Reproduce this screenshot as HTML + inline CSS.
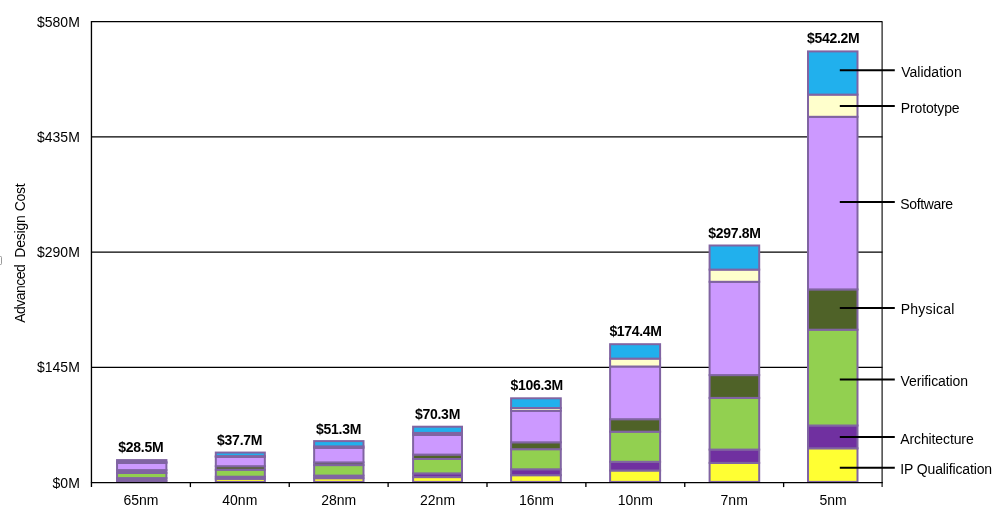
<!DOCTYPE html>
<html lang="en"><head><meta charset="utf-8"><title>Advanced Design Cost</title>
<style>html,body{margin:0;padding:0;background:#fff}body{width:996px;height:518px;overflow:hidden}svg{display:block}text{font-family:"Liberation Sans",Arial,Helvetica,sans-serif;fill:#000}</style>
</head><body>
<svg width="996" height="518" viewBox="0 0 996 518">
<rect width="996" height="518" fill="#fff"/>
<rect x="-2" y="256.5" width="3.5" height="8" fill="none" stroke="#9a9a9a" stroke-width="1" rx="0.8"/>
<g stroke="#000" stroke-width="1.1" fill="none">
<line x1="91.5" y1="136.90" x2="882.5" y2="136.90"/>
<line x1="91.5" y1="252.15" x2="882.5" y2="252.15"/>
<line x1="91.5" y1="367.40" x2="882.5" y2="367.40"/>
<line x1="91.5" y1="21.65" x2="882.5" y2="21.65"/>
<line x1="882.1" y1="21.65" x2="882.1" y2="486.90"/>
</g>
<g stroke="#8064A2" stroke-width="2" stroke-linejoin="miter">
<rect x="117.04" y="480.70" width="49.36" height="1.20" fill="#8064A2"/>
<rect x="117.04" y="478.10" width="49.36" height="2.60" fill="#8064A2"/>
<rect x="117.04" y="473.00" width="49.36" height="5.10" fill="#92D050"/>
<rect x="117.04" y="470.10" width="49.36" height="2.90" fill="#8064A2"/>
<rect x="117.04" y="463.00" width="49.36" height="7.10" fill="#CC99FF"/>
<rect x="117.04" y="461.90" width="49.36" height="1.10" fill="#8064A2"/>
<rect x="117.04" y="460.10" width="49.36" height="1.80" fill="#8064A2"/>
<rect x="215.80" y="478.80" width="49.05" height="3.10" fill="#FFFF33"/>
<rect x="215.80" y="476.70" width="49.05" height="2.10" fill="#8064A2"/>
<rect x="215.80" y="469.70" width="49.05" height="7.00" fill="#92D050"/>
<rect x="215.80" y="466.20" width="49.05" height="3.50" fill="#4F6228"/>
<rect x="215.80" y="456.97" width="49.05" height="9.23" fill="#CC99FF"/>
<rect x="215.80" y="456.10" width="49.05" height="0.87" fill="#8064A2"/>
<rect x="215.80" y="452.56" width="49.05" height="3.54" fill="#21B0ED"/>
<rect x="314.14" y="478.20" width="49.36" height="3.70" fill="#FFFF33"/>
<rect x="314.14" y="475.60" width="49.36" height="2.60" fill="#8064A2"/>
<rect x="314.14" y="465.10" width="49.36" height="10.50" fill="#92D050"/>
<rect x="314.14" y="462.40" width="49.36" height="2.70" fill="#4F6228"/>
<rect x="314.14" y="447.85" width="49.36" height="14.55" fill="#CC99FF"/>
<rect x="314.14" y="446.40" width="49.36" height="1.45" fill="#8064A2"/>
<rect x="314.14" y="441.10" width="49.36" height="5.30" fill="#21B0ED"/>
<rect x="413.10" y="477.10" width="48.9" height="4.80" fill="#FFFF33"/>
<rect x="413.10" y="473.40" width="48.9" height="3.70" fill="#7030A0"/>
<rect x="413.10" y="459.00" width="48.9" height="14.40" fill="#92D050"/>
<rect x="413.10" y="454.60" width="48.9" height="4.40" fill="#4F6228"/>
<rect x="413.10" y="434.95" width="48.9" height="19.65" fill="#CC99FF"/>
<rect x="413.10" y="432.90" width="48.9" height="2.05" fill="#8064A2"/>
<rect x="413.10" y="426.70" width="48.9" height="6.20" fill="#21B0ED"/>
<rect x="511.10" y="475.20" width="49.7" height="6.70" fill="#FFFF33"/>
<rect x="511.10" y="469.30" width="49.7" height="5.90" fill="#7030A0"/>
<rect x="511.10" y="449.20" width="49.7" height="20.10" fill="#92D050"/>
<rect x="511.10" y="442.30" width="49.7" height="6.90" fill="#4F6228"/>
<rect x="511.10" y="410.80" width="49.7" height="31.50" fill="#CC99FF"/>
<rect x="511.10" y="408.00" width="49.7" height="2.80" fill="#FFFFCC"/>
<rect x="511.10" y="398.30" width="49.7" height="9.70" fill="#21B0ED"/>
<rect x="610.10" y="470.50" width="50.0" height="11.40" fill="#FFFF33"/>
<rect x="610.10" y="461.80" width="50.0" height="8.70" fill="#7030A0"/>
<rect x="610.10" y="431.70" width="50.0" height="30.10" fill="#92D050"/>
<rect x="610.10" y="419.20" width="50.0" height="12.50" fill="#4F6228"/>
<rect x="610.10" y="366.50" width="50.0" height="52.70" fill="#CC99FF"/>
<rect x="610.10" y="358.60" width="50.0" height="7.90" fill="#FFFFCC"/>
<rect x="610.10" y="344.20" width="50.0" height="14.40" fill="#21B0ED"/>
<rect x="709.60" y="462.90" width="49.6" height="19.00" fill="#FFFF33"/>
<rect x="709.60" y="449.60" width="49.6" height="13.30" fill="#7030A0"/>
<rect x="709.60" y="397.90" width="49.6" height="51.70" fill="#92D050"/>
<rect x="709.60" y="375.10" width="49.6" height="22.80" fill="#4F6228"/>
<rect x="709.60" y="281.80" width="49.6" height="93.30" fill="#CC99FF"/>
<rect x="709.60" y="269.60" width="49.6" height="12.20" fill="#FFFFCC"/>
<rect x="709.60" y="245.50" width="49.6" height="24.10" fill="#21B0ED"/>
<rect x="808.00" y="448.30" width="49.5" height="33.60" fill="#FFFF33"/>
<rect x="808.00" y="425.50" width="49.5" height="22.80" fill="#7030A0"/>
<rect x="808.00" y="329.70" width="49.5" height="95.80" fill="#92D050"/>
<rect x="808.00" y="289.40" width="49.5" height="40.30" fill="#4F6228"/>
<rect x="808.00" y="116.80" width="49.5" height="172.60" fill="#CC99FF"/>
<rect x="808.00" y="94.60" width="49.5" height="22.20" fill="#FFFFCC"/>
<rect x="808.00" y="51.40" width="49.5" height="43.20" fill="#21B0ED"/>
</g>
<g stroke="#000" stroke-width="1.33" fill="none">
<line x1="91.45" y1="21.10" x2="91.45" y2="486.90"/>
<line x1="90.9" y1="482.6" x2="882.8" y2="482.6"/>
<line x1="190.38" y1="482.6" x2="190.38" y2="487.1"/>
<line x1="289.25" y1="482.6" x2="289.25" y2="487.1"/>
<line x1="388.12" y1="482.6" x2="388.12" y2="487.1"/>
<line x1="487.00" y1="482.6" x2="487.00" y2="487.1"/>
<line x1="585.88" y1="482.6" x2="585.88" y2="487.1"/>
<line x1="684.75" y1="482.6" x2="684.75" y2="487.1"/>
<line x1="783.62" y1="482.6" x2="783.62" y2="487.1"/>
</g>
<g font-size="14" text-anchor="end">
<text x="79.8" y="26.55">$580M</text>
<text x="79.8" y="141.79">$435M</text>
<text x="79.8" y="257.03">$290M</text>
<text x="79.8" y="372.26">$145M</text>
<text x="79.8" y="487.50">$0M</text>
</g>
<g font-size="14" text-anchor="middle">
<text x="140.94" y="504.6">65nm</text>
<text x="239.81" y="504.6">40nm</text>
<text x="338.69" y="504.6">28nm</text>
<text x="437.56" y="504.6">22nm</text>
<text x="536.44" y="504.6">16nm</text>
<text x="635.31" y="504.6">10nm</text>
<text x="734.19" y="504.6">7nm</text>
<text x="833.06" y="504.6">5nm</text>
</g>
<g font-size="14" font-weight="bold" text-anchor="middle">
<text x="140.90" y="451.70" textLength="45.4" lengthAdjust="spacing">$28.5M</text>
<text x="239.75" y="444.87" textLength="45.4" lengthAdjust="spacing">$37.7M</text>
<text x="338.65" y="433.64" textLength="45.4" lengthAdjust="spacing">$51.3M</text>
<text x="437.60" y="418.97" textLength="45.4" lengthAdjust="spacing">$70.3M</text>
<text x="536.90" y="389.68" textLength="52.6" lengthAdjust="spacing">$106.3M</text>
<text x="635.70" y="335.80" textLength="52.6" lengthAdjust="spacing">$174.4M</text>
<text x="734.65" y="237.90" textLength="52.6" lengthAdjust="spacing">$297.8M</text>
<text x="833.30" y="42.90" textLength="52.6" lengthAdjust="spacing">$542.2M</text>
</g>
<g font-size="14">
<text transform="translate(24.8 322.8) rotate(-90)" textLength="58.5" lengthAdjust="spacing">Advanced</text>
<text transform="translate(24.8 257.7) rotate(-90)" textLength="42.6" lengthAdjust="spacing">Design</text>
<text transform="translate(24.8 211.2) rotate(-90)" textLength="27.9" lengthAdjust="spacing">Cost</text>
</g>
<g stroke="#000" stroke-width="2" fill="none">
<line x1="839.8" y1="70.3" x2="894.8" y2="70.3"/>
<line x1="839.8" y1="105.9" x2="894.8" y2="105.9"/>
<line x1="839.8" y1="202.0" x2="894.8" y2="202.0"/>
<line x1="839.8" y1="308.0" x2="894.8" y2="308.0"/>
<line x1="839.8" y1="379.4" x2="894.8" y2="379.4"/>
<line x1="839.8" y1="436.9" x2="894.8" y2="436.9"/>
<line x1="839.8" y1="467.8" x2="894.8" y2="467.8"/>
</g>
<g font-size="14">
<text x="901.3" y="76.80" textLength="60.4" lengthAdjust="spacing">Validation</text>
<text x="900.8" y="112.50" textLength="58.8" lengthAdjust="spacing">Prototype</text>
<text x="900.2" y="209.20" textLength="52.9" lengthAdjust="spacing">Software</text>
<text x="900.7" y="313.80" textLength="53.7" lengthAdjust="spacing">Physical</text>
<text x="900.6" y="385.80" textLength="67.4" lengthAdjust="spacing">Verification</text>
<text x="900.3" y="443.80" textLength="73.4" lengthAdjust="spacing">Architecture</text>
<text x="900.3" y="473.80" textLength="91.85" lengthAdjust="spacing">IP Qualification</text>
</g>
</svg></body></html>
